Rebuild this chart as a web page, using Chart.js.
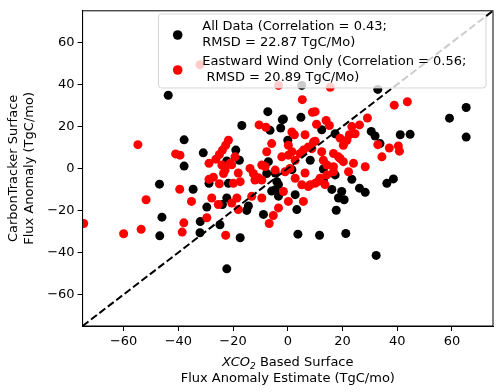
<!DOCTYPE html>
<html>
<head>
<meta charset="utf-8">
<script src="https://cdn.jsdelivr.net/npm/chart.js@4/dist/chart.umd.min.js"></script>
<style>
  body { margin: 0; background: #fff; }
  #wrap { width: 500px; height: 392px; }
</style>
</head>
<body>
<div id="wrap"><canvas id="chart" width="500" height="392"></canvas></div>
<script>
// Tick values (both axes)
const xTicks = [-60, -40, -20, 0, 20, 40, 60]
const yTicks = [-60, -40, -20, 0, 20, 40, 60]
const axisRange = [-75, 75]

// All data (black)
const allX = [-43.7, -37.9, -37.9, -30.9, -16.8, -46.9, -34.6, -22.3, -28.8, -19.0, -17.7, -7.3, -2.0, 4.8, -6.5, -2.6, 0.0, -22.3, -7.1, 8.2,
    59.1, 65.2, 65.2, 41.1, 44.7, 30.5, 31.9, 33.7, 12.4, 17.3, 13.0, 23.4, 36.2, 38.6, 26.2, 28.3, 19.7, 18.5, 20.6, 17.7,
    11.6, 21.2, 32.3, 13.0, 17.3, -21.7, -7.7, -4.0, -4.6, 3.3, -8.9, -15.0, -29.6, -23.9, -24.8, -32.1, -17.4, 3.7, -22.3, -46.0,
    -32.0, -46.8, 2.7, 5.1, 32.9, -4.6, 1.5, -3.4, -5.9, -3.4, -14.4, 16.1, -1.6]
const allY = [34.8, 13.6, 1.1, 7.4, 20.4, -7.5, -9.9, -14.1, -7.1, 8.7, 3.9, 27.0, 23.2, 24.3, 18.1, 19.2, 13.4, 3.5, 3.2, 3.9,
    23.9, 29.0, 14.9, 16.0, 16.2, 17.6, 15.4, 11.8, 18.4, 16.5, -0.3, -5.2, -7.1, -5.0, -9.4, -11.4, -11.0, -14.1, -14.9, -19.9,
    -31.8, -31.0, -41.4, -5.5, -3.1, -7.1, -2.4, -6.3, -10.2, -19.6, -21.9, -20.0, -18.4, -17.2, -26.8, -30.6, -33.0, -31.3, -47.8, -23.2,
    -25.3, -32.1, -12.5, 39.5, 37.6, -2.2, -0.6, -7.7, -10.8, -13.2, -17.9, -10.0, 23.5]

// Eastward wind only (red)
const eastX = [-54.8, -41.0, -39.4, -39.5, -28.8, -21.7, -22.7, -23.9, -25.0, -26.3, -21.1, -24.1, -28.8, -27.2, -25.0, -19.9, -17.4, 5.3, -10.5, -8.0,
    1.5, 2.4, 6.3, 9.0, -5.9, -7.7, -2.2, 0.2, 2.7, 4.5, 5.7, 7.5, 9.4, -13.8, -9.5, -4.6, 38.9, 43.7, 32.9, 37.1,
    40.4, 40.8, 34.4, 29.1, 26.2, 23.4, 22.5, 24.6, 10.0, 14.0, 15.2, 19.1, 20.3, 21.6, 10.0, 8.8, 12.4, 16.7, 18.5, 24.0,
    28.3, 13.0, 14.3, 16.7, 19.1, 20.3, 22.2, 10.0, 8.2, 11.8, 14.3, 16.7, -22.9, -23.5, -12.6, -12.0, -9.5, -1.0, 0.8, 2.7,
    5.1, 7.5, -1.6, 0.2, 5.7, -3.4, -5.3, -6.8, -27.8, -25.4, -20.5, -18.6, -18.1, -29.6, -22.7, -51.8, -35.2, -38.0, -38.6, -60.0,
    -53.6, -74.6, -9.5, -13.2, -3.4, 15.5, -32.1, 0.2, 1.5, -18.1, -10.7, -8.3, 11.2, 13.6, -19.3, -20.5, 6.3, 10.5]
const eastY = [11.3, 6.9, 6.3, -9.9, 2.4, 13.4, 11.0, 8.7, 6.6, 4.4, 2.4, 1.6, -5.2, -4.2, -7.3, -7.1, -6.3, 32.7, 20.7, 19.6,
    17.3, 16.0, 16.0, 26.7, 11.8, 7.9, 5.5, 6.3, 3.9, 7.1, 8.7, 10.2, 12.6, 0.0, 1.6, -0.8, 30.1, 31.7, 11.3, 9.7,
    10.7, 8.2, 5.5, 24.0, 20.7, 19.9, 16.0, 16.5, 27.0, 22.8, 20.4, 14.4, 11.0, 13.4, 12.9, 9.4, 7.9, 7.1, 5.5, 2.4,
    0.8, 3.9, 1.6, 0.8, 4.7, 3.2, -1.6, -7.1, -7.8, -4.7, -3.1, -1.6, -0.8, -2.4, -2.4, -5.5, -5.5, -1.6, 0.0, -4.7,
    -7.8, -8.6, -11.0, -15.7, -15.7, -18.8, -22.4, -26.2, -14.1, -17.2, -16.5, -14.1, -19.6, -23.5, -31.8, -14.9, -15.7, -25.9, -30.3, -31.1,
    -29.0, -26.2, -14.1, -13.3, 39.5, 38.6, 49.3, 11.0, 7.9, -2.2, -4.5, 0.9, -6.1, -7.7, 5.5, 1.7, -2.2, 21.0]

const legendLabels = [
    ['All Data (Correlation = 0.43;', 'RMSD = 22.87 TgC/Mo)'],
    ['Eastward Wind Only (Correlation = 0.56;', ' RMSD = 20.89 TgC/Mo)'],
]

const FONT = '13px "DejaVu Sans"'
const toPoints = (xs, ys) => xs.map((x, i) => ({ x, y: ys[i] }))
const fmt = v => String(v).replace('-', '\u2212')

// Frame, axis titles and in-plot legend
const decorations = {
    id: 'decorations',
    afterDraw(chart) {
        const c = chart.ctx
        const a = chart.chartArea
        c.save()

        // legend box (semi transparent, over the data)
        const lx = 158.5, ly = 14, lw = 327.5, lh = 74, r = 3
        c.beginPath()
        c.roundRect(lx, ly, lw, lh, r)
        c.fillStyle = 'rgba(255,255,255,0.8)'
        c.fill()
        c.strokeStyle = 'rgba(204,204,204,0.8)'
        c.lineWidth = 1
        c.stroke()

        const colors = ['#000000', '#ff0000']
        const markerY = [35, 70]
        const baselines = [[30, 45.5], [65, 80.5]]
        c.font = FONT
        c.textAlign = 'left'
        c.textBaseline = 'alphabetic'
        legendLabels.forEach((lines, i) => {
            c.beginPath()
            c.arc(177.7, markerY[i], 4.8, 0, Math.PI * 2)
            c.fillStyle = colors[i]
            c.fill()
            c.fillStyle = '#000'
            lines.forEach((t, j) => c.fillText(t, 202.3, baselines[i][j]))
        })

        // frame
        c.strokeStyle = '#000'
        c.lineWidth = 1
        c.strokeRect(a.left, a.top, a.right - a.left, a.bottom - a.top)

        // y title
        const cy = (a.top + a.bottom) / 2
        c.fillStyle = '#000'
        c.textAlign = 'center'
        const yTitle = [['CarbonTracker Surface', 16.8], ['Flux Anomaly (TgC/mo)', 32.5]]
        yTitle.forEach(([t, bx]) => {
            c.save()
            c.translate(bx, cy)
            c.rotate(-Math.PI / 2)
            c.fillText(t, 0, 0)
            c.restore()
        })

        // x title, line 1 with italic XCO and subscript 2
        const cx = (a.left + a.right) / 2
        const parts = [
            { t: 'XCO', font: 'italic 13px "DejaVu Sans"', dy: 0 },
            { t: '2', font: 'italic 9px "DejaVu Sans"', dy: 3 },
            { t: ' Based Surface', font: FONT, dy: 0 },
        ]
        let total = 0
        parts.forEach(p => { c.font = p.font; p.w = c.measureText(p.t).width; total += p.w })
        let x = cx - total / 2
        c.textAlign = 'left'
        parts.forEach(p => {
            c.font = p.font
            c.fillText(p.t, x, 366.3 + p.dy)
            x += p.w
        })
        c.font = FONT
        c.textAlign = 'center'
        c.fillText('Flux Anomaly Estimate (TgC/mo)', cx, 381.7)

        c.restore()
    }
}

const axisOptions = (ticks, fitFn) => ({
    type: 'linear',
    min: axisRange[0],
    max: axisRange[1],
    afterBuildTicks: s => { s.ticks = ticks.map(v => ({ value: v })) },
    afterFit: fitFn,
    grid: { drawOnChartArea: false, drawTicks: true, tickLength: 5, color: '#000', lineWidth: 1 },
    border: { display: true, color: '#000', width: 1 },
    ticks: { color: '#000', font: { family: 'DejaVu Sans', size: 13 }, padding: 3, maxRotation: 0, callback: v => fmt(v) },
})

// Create the chart
const createChart = () => {
    const ctx = document.getElementById('chart')
    new Chart(ctx, {
        type: 'scatter',
        data: {
            datasets: [
                {
                    type: 'line',
                    data: [{ x: axisRange[0], y: axisRange[0] }, { x: axisRange[1], y: axisRange[1] }],
                    borderColor: '#000',
                    borderWidth: 2,
                    borderDash: [7.4, 3.2],
                    pointRadius: 0,
                    fill: false,
                    clip: 0,
                    order: 0,
                },
                {
                    data: toPoints(eastX, eastY),
                    backgroundColor: '#ff0000',
                    borderWidth: 0,
                    pointRadius: 4.5,
                    clip: 0,
                    order: 1,
                },
                {
                    data: toPoints(allX, allY),
                    backgroundColor: '#000000',
                    borderWidth: 0,
                    pointRadius: 4.5,
                    clip: 0,
                    order: 2,
                },
            ]
        },
        options: {
            responsive: false,
            animation: false,
            devicePixelRatio: 1,
            layout: { padding: { left: 0, right: 7, top: 7, bottom: 0 } },
            plugins: { legend: { display: false }, tooltip: { enabled: false } },
            scales: {
                x: axisOptions(xTicks, s => { s.height = 66 }),
                y: axisOptions(yTicks, s => { s.width = 82.6 }),
            },
        },
        plugins: [decorations],
    })
}

// Show Chart
createChart()
</script>
</body>
</html>
